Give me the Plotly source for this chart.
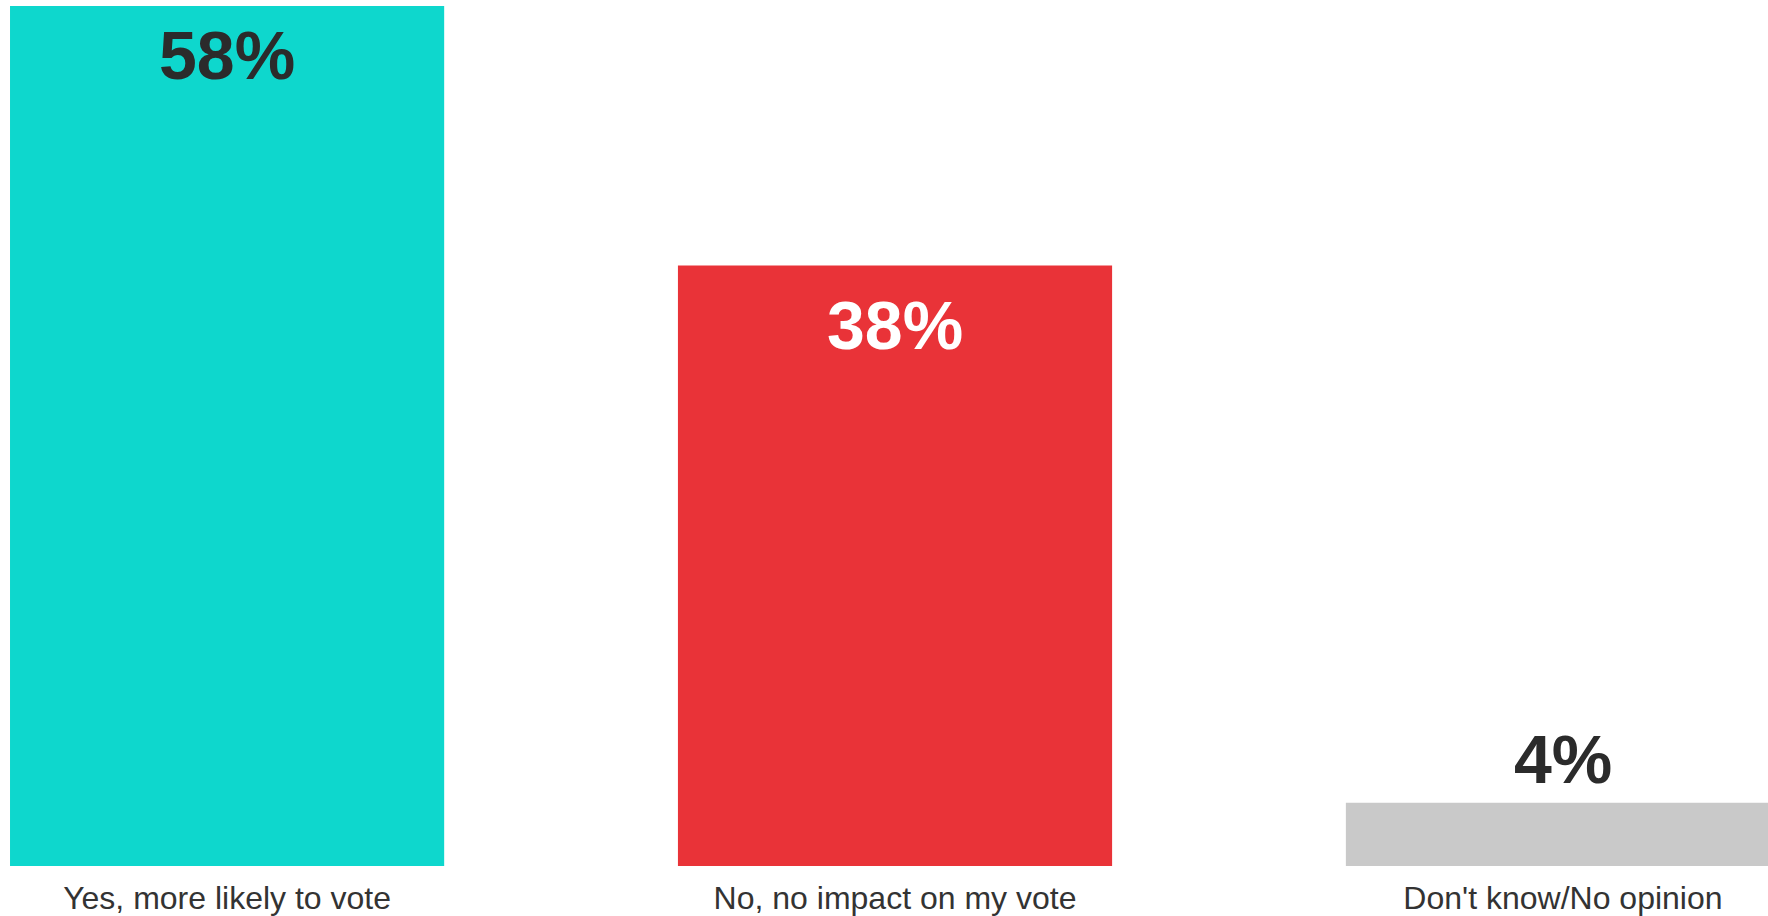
import plotly.graph_objects as go

categories = ["Yes, more likely to vote", "No, no impact on my vote", "Don't know/No opinion"]
values = [58, 38, 4]
labels = ["58%", "38%", "4%"]
bar_colors = ["#0ED7CD", "#E93338", "#C9C9C9"]
label_colors = ["#2B2B2B", "#FFFFFF", "#2B2B2B"]
label_shifts = [-49, -59, 44]  # pixel offset of label centre from the visible bar top

y_max = 54.43

fig = go.Figure(go.Bar(
    x=categories,
    y=values,
    marker=dict(color=bar_colors, line=dict(width=0)),
    textposition="none",
    hoverinfo="skip",
))

for cat, val, lab, col, sh in zip(categories, values, labels, label_colors, label_shifts):
    fig.add_annotation(
        x=cat, y=min(val, y_max), xref="x", yref="y",
        text=lab, showarrow=False, yanchor="middle", xanchor="center",
        yshift=sh,
        font=dict(family="Liberation Sans, Arial, sans-serif", size=68, color=col, weight="bold"),
    )

fig.update_layout(
    width=1768, height=916,
    margin=dict(l=0, r=0, t=6, b=50),
    paper_bgcolor="white", plot_bgcolor="white",
    bargap=0.35,
    showlegend=False,
    xaxis=dict(range=[-0.34, 2.307], showgrid=False, zeroline=False, showline=False, ticks="",
               ticklabelstandoff=10,
               tickfont=dict(family="Liberation Sans, Arial, sans-serif", size=32, color="#333333")),
    yaxis=dict(range=[0, y_max], visible=False, showgrid=False, zeroline=False),
)

fig.write_html("out.html")
